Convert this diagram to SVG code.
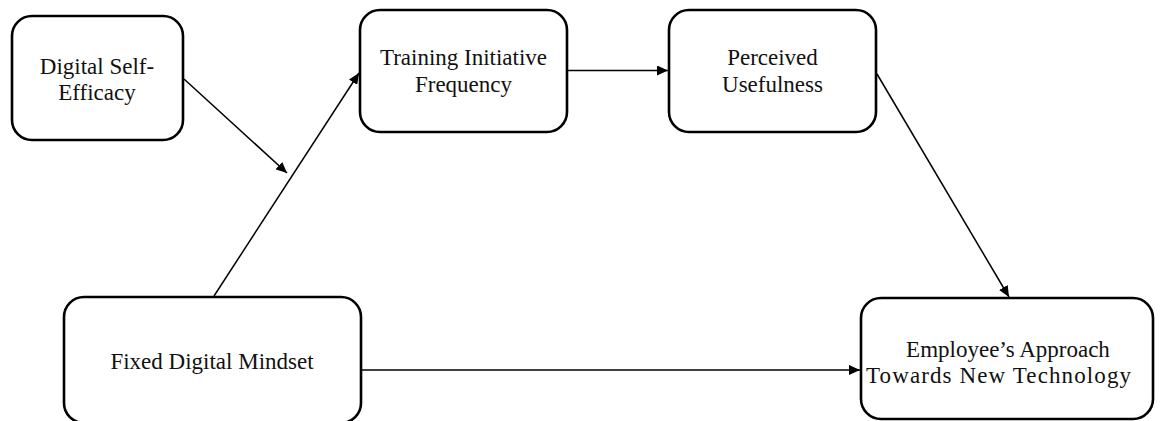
<svg xmlns="http://www.w3.org/2000/svg" width="1161" height="421" viewBox="0 0 1161 421">
<style>
.box{fill:#fff;stroke:#000;stroke-width:2.6}
.lbl{font-family:"Liberation Serif","Times New Roman",serif;font-size:23px;fill:#111;text-anchor:middle}
.con{stroke:#000;stroke-width:1.5;fill:none;marker-end:url(#ah)}
</style>
<defs>
<marker id="ah" markerUnits="userSpaceOnUse" markerWidth="12" markerHeight="10" refX="11" refY="5" orient="auto">
<path d="M0,0 L11,5 L0,10 z" fill="#000"/>
</marker>
</defs>
<rect width="1161" height="421" fill="#fff"/>
<g id="connectors">
<line class="con" x1="184" y1="79" x2="287" y2="173"/>
<line class="con" x1="214" y1="296" x2="359" y2="73"/>
<line class="con" x1="567" y1="70.5" x2="668" y2="70.5"/>
<line class="con" x1="877" y1="74" x2="1009" y2="297"/>
<line class="con" x1="361" y1="370" x2="860" y2="370"/>
</g>
<g id="digital-self-efficacy">
<rect class="box" x="12" y="16" width="171" height="124" rx="20"/>
<text class="lbl" x="97" y="74">Digital Self-</text>
<text class="lbl" x="97" y="100">Efficacy</text>
</g>
<g id="training-initiative-frequency">
<rect class="box" x="360" y="10" width="207" height="122" rx="20"/>
<text class="lbl" x="463.5" y="65">Training Initiative</text>
<text class="lbl" x="463.5" y="92">Frequency</text>
</g>
<g id="perceived-usefulness">
<rect class="box" x="669" y="10" width="207" height="122" rx="20"/>
<text class="lbl" x="772.5" y="65">Perceived</text>
<text class="lbl" x="772.5" y="92">Usefulness</text>
</g>
<g id="fixed-digital-mindset">
<rect class="box" x="64" y="297" width="297" height="126" rx="20"/>
<text class="lbl" x="212" y="369">Fixed Digital Mindset</text>
</g>
<g id="employees-approach">
<rect class="box" x="861" y="298" width="292" height="121" rx="20"/>
<text class="lbl" x="1008" y="357">Employee’s Approach</text>
<text class="lbl" x="998.5" y="383" textLength="265" lengthAdjust="spacing">Towards New Technology</text>
</g>
</svg>
